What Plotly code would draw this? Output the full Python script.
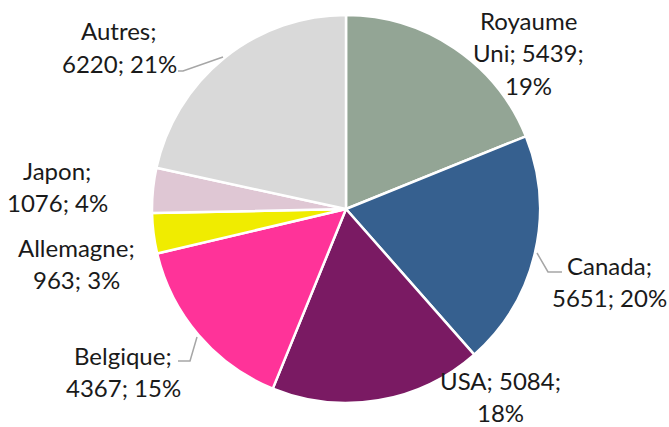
import plotly.graph_objects as go

# Data
countries = ["Royaume Uni", "Canada", "USA", "Belgique", "Allemagne", "Japon", "Autres"]
values = [5439, 5651, 5084, 4367, 963, 1076, 6220]
percents = ["19%", "20%", "18%", "15%", "3%", "4%", "21%"]
colors = ["#93A595", "#36608F", "#7A1A63", "#FF3399", "#F0EC00", "#DFC7D4", "#D9D9D9"]

W, H = 669, 427

fig = go.Figure(go.Pie(
    labels=countries,
    values=values,
    sort=False,
    direction="clockwise",
    rotation=0,
    marker=dict(colors=colors, line=dict(color="white", width=2.5)),
    textinfo="none",
    hoverinfo="label+value+percent",
    domain=dict(x=[(346 - 194) / W, (346 + 194) / W],
                y=[(H - 209 - 194) / H, (H - 209 + 194) / H]),
    showlegend=False,
))

# label lines: (text lines, center x px, first-line y px)
label_layout = [
    (["Royaume", "Uni; %d;" % values[0], percents[0]], 528, 20),
    (["Canada;", "%d; %s" % (values[1], percents[1])], 609, 265),
    (["USA; %d;" % values[2], percents[2]], 500, 380),
    (["Belgique;", "%d; %s" % (values[3], percents[3])], 123, 355),
    (["Allemagne;", "%d; %s" % (values[4], percents[4])], 76, 247),
    (["Japon;", "%d; %s" % (values[5], percents[5])], 57, 170),
    (["Autres;", "%d; %s" % (values[6], percents[6])], 119, 31),
]
line_gap = 32.5

annotations = []
for lines, cx, y0 in label_layout:
    for i, t in enumerate(lines):
        annotations.append(dict(
            text=t, x=cx / W, y=1 - (y0 + i * line_gap) / H,
            xref="paper", yref="paper", xanchor="center", yanchor="middle",
            showarrow=False, font=dict(family="Lato", size=24, color="#1a1a1a"),
        ))

leaders = [
    [(178, 71), (183, 71), (223, 57)],
    [(178, 361), (190, 361), (197, 337)],
    [(537, 253), (548, 272), (562, 272)],
]
shapes = []
for pts in leaders:
    path = "M " + " L ".join("%f,%f" % (x / W, 1 - y / H) for x, y in pts)
    shapes.append(dict(type="path", path=path, xref="paper", yref="paper",
                       line=dict(color="#A6A6A6", width=1.5)))

fig.update_layout(
    width=W, height=H,
    margin=dict(l=0, r=0, t=0, b=0),
    paper_bgcolor="white", plot_bgcolor="white",
    annotations=annotations, shapes=shapes,
)

fig.write_html("out.html", config={"displayModeBar": False},
               post_script="document.body.style.margin='0';")
